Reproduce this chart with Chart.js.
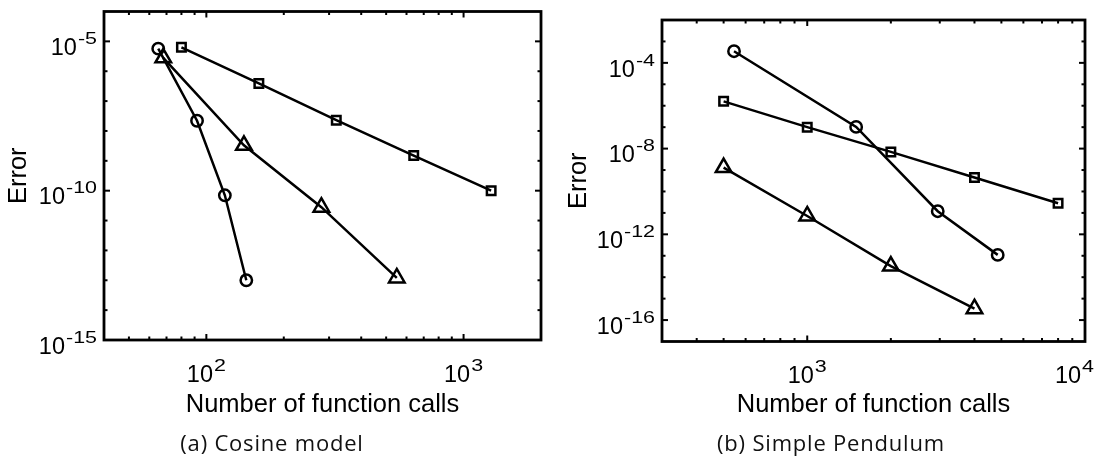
<!DOCTYPE html>
<html><head><meta charset="utf-8">
<script src="https://cdn.jsdelivr.net/npm/chart.js@4.4.1/dist/chart.umd.min.js"></script>
<style>
html,body{margin:0;padding:0;background:#fff;}
body{width:1107px;height:461px;position:relative;overflow:hidden;}
#wa{position:absolute;left:0;top:0;width:553px;height:461px;}
#wb{position:absolute;left:553px;top:0;width:554px;height:461px;}
.cap{position:absolute;top:431px;font-family:"Open Sans",Lato,sans-serif;font-size:22px;line-height:22px;letter-spacing:0.8px;text-align:center;color:#111;white-space:nowrap;}
</style></head><body>
<div id="wa"><canvas id="ca" width="553" height="461"></canvas></div>
<div id="wb"><canvas id="cb" width="554" height="461"></canvas></div>
<div class="cap" style="left:0;width:544px">(a) Cosine model</div>
<div class="cap" style="left:555px;width:552px">(b) Simple Pendulum</div>
<script>
// ---- (a) Cosine model ----
const cosCircleX   = [65, 92, 118, 143];
const cosCircleY   = [5.7e-6, 2.2e-8, 7e-11, 1e-13];
const cosSquareX   = [80, 160, 320, 640, 1280];
const cosSquareY   = [6.3e-6, 3.9e-7, 2.3e-8, 1.5e-9, 1e-10];
const cosTriangleX = [68, 140, 280, 550];
const cosTriangleY = [2.8e-6, 3.3e-9, 2.8e-11, 1.2e-13];

const cosXTicks  = [50,60,70,80,90,100,200,300,400,500,600,700,800,900,1000,2000];
const cosXLabels = ['','','','','','10^2','','','','','','','','','10^3',''];
const cosYTicks  = [1e-15,1e-14,1e-13,1e-12,1e-11,1e-10,1e-9,1e-8,1e-7,1e-6,1e-5,1e-4];
const cosYLabels = ['10^-15','','','','','10^-10','','','','','10^-5',''];

// ---- (b) Simple Pendulum ----
const penCircleX   = [545, 1500, 2950, 4850];
const penCircleY   = [3.5e-4, 1.03e-7, 1.2e-11, 1.1e-13];
const penSquareX   = [500, 1000, 2000, 4000, 8000];
const penSquareY   = [1.6e-6, 1.0e-7, 7e-9, 4.5e-10, 2.8e-11];
const penTriangleX = [500, 1000, 2000, 4000];
const penTriangleY = [1.3e-9, 7.2e-12, 3.3e-14, 3.4e-16];

const penXTicks  = [400,500,600,700,800,900,1000,2000,3000,4000,5000,6000,7000,8000,9000,10000];
const penXLabels = ['','','','','','','10^3','','','','','','','','','10^4'];
const penYTicks  = [1e-17,1e-16,1e-15,1e-14,1e-13,1e-12,1e-11,1e-10,1e-9,1e-8,1e-7,1e-6,1e-5,1e-4,1e-3,1e-2];
const penYLabels = ['','10^-16','','','','10^-12','','','','10^-8','','','','10^-4','',''];

const FONT = '"Liberation Sans", Arial, Helvetica, sans-serif';
const BASE_PX = 23.5, SUP_PX = 16.5, SUP_SX = 1.3, SUP_RAISE = 11, SUP_GAP = 1;

function drawPow(ctx, label, x, y, align, maxRight) {
  const parts = label.split('^');
  const b = parts[0], e = parts[1] || '';
  ctx.font = BASE_PX + 'px ' + FONT;
  const wb = ctx.measureText(b).width;
  ctx.font = SUP_PX + 'px ' + FONT;
  const we = ctx.measureText(e).width * SUP_SX;
  const total = wb + SUP_GAP + we;
  let x0 = align === 'right' ? x - total : x - total / 2;
  if (maxRight !== undefined && x0 + total > maxRight) x0 = maxRight - total;
  ctx.textAlign = 'left';
  ctx.textBaseline = 'alphabetic';
  ctx.fillStyle = '#000';
  ctx.font = BASE_PX + 'px ' + FONT;
  ctx.fillText(b, x0, y);
  ctx.save();
  ctx.translate(x0 + wb + SUP_GAP, y - SUP_RAISE);
  ctx.scale(SUP_SX, 1);
  ctx.font = SUP_PX + 'px ' + FONT;
  ctx.fillText(e, 0, 0);
  ctx.restore();
}

const boxPlugin = {
  id: 'box',
  afterDraw(chart, args, o) {
    const {ctx, chartArea: a, scales} = chart;
    ctx.save();
    ctx.strokeStyle = '#000';
    ctx.lineWidth = 2;
    const seg = (x1,y1,x2,y2)=>{ctx.beginPath();ctx.moveTo(x1,y1);ctx.lineTo(x2,y2);ctx.stroke();};
    o.xTicks.forEach((v, i) => {
      const p = scales.x.getPixelForValue(v);
      const lab = o.xLabels[i];
      if (lab) drawPow(ctx, lab, p, a.bottom + 41.5, 'center', chart.width - 13);
      if (p <= a.left + 1 || p >= a.right - 1) return;
      const L = lab ? 6 : 3.5;
      seg(p, a.bottom, p, a.bottom - L);
      seg(p, a.top, p, a.top + L);
    });
    o.yTicks.forEach((v, i) => {
      const p = scales.y.getPixelForValue(v);
      const lab = o.yLabels[i];
      if (lab) drawPow(ctx, lab, a.left - 7, p + 13.8, 'right');
      if (p <= a.top + 1 || p >= a.bottom - 1) return;
      const L = lab ? 6 : 3.5;
      seg(a.left, p, a.left + L, p);
      seg(a.right, p, a.right - L, p);
    });
    ctx.lineWidth = 2.8;
    ctx.strokeRect(a.left, a.top, a.right - a.left, a.bottom - a.top);
    ctx.restore();
  }
};

function series(xs, ys, style, r) {
  return {
    data: xs.map((x, i) => ({x: x, y: ys[i]})),
    showLine: true, borderColor: '#000', borderWidth: 2.5, tension: 0, fill: false,
    pointStyle: style, pointRadius: r, pointHoverRadius: r, pointBorderWidth: 2.5,
    pointBorderColor: '#000', pointBackgroundColor: 'rgba(0,0,0,0)'
  };
}

function makeChart(id, p) {
  return new Chart(document.getElementById(id), {
    type: 'scatter',
    data: { datasets: [
      series(p.sqX, p.sqY, 'rect', 6),
      series(p.trX, p.trY, 'triangle', 9),
      series(p.ciX, p.ciY, 'circle', 5.7)
    ]},
    options: {
      responsive: false, animation: false,
      layout: { padding: p.pad },
      plugins: {
        legend: {display: false}, tooltip: {enabled: false},
        box: { xTicks: p.xTicks, xLabels: p.xLabels, yTicks: p.yTicks, yLabels: p.yLabels }
      },
      scales: {
        x: {
          type: 'logarithmic', position: 'bottom', min: p.xMin, max: p.xMax,
          grid: {display: false, drawTicks: false}, border: {display: false},
          ticks: { display: false, autoSkip: false, maxRotation: 0, minRotation: 0 },
          title: { display: true, text: 'Number of function calls', color: '#000',
                   font: {family: FONT, size: 25.5}, padding: {top: 0, bottom: 41} },
          afterBuildTicks: s => { s.ticks = p.xTicks.map(v => ({value: v})); },
          afterFit: s => { s.height = p.xH; }
        },
        y: {
          type: 'logarithmic', position: 'left', min: p.yMin, max: p.yMax,
          grid: {display: false, drawTicks: false}, border: {display: false},
          ticks: { display: false, autoSkip: false },
          title: { display: true, text: 'Error', color: '#000',
                   font: {family: FONT, size: 25.5}, padding: {top: p.yTitlePad, bottom: 0} },
          afterBuildTicks: s => { s.ticks = p.yTicks.map(v => ({value: v})); },
          afterFit: s => { s.width = p.yW; }
        }
      }
    },
    plugins: [boxPlugin]
  });
}

makeChart('ca', {
  ciX: cosCircleX, ciY: cosCircleY, sqX: cosSquareX, sqY: cosSquareY, trX: cosTriangleX, trY: cosTriangleY,
  xTicks: cosXTicks, xLabels: cosXLabels, yTicks: cosYTicks, yLabels: cosYLabels,
  xMin: 40, xMax: 2000, yMin: 1e-15, yMax: 1e-4,
  pad: {left: 0, top: 8, right: 12, bottom: 0}, xH: 121, yW: 104, yTitlePad: 4
});
makeChart('cb', {
  ciX: penCircleX, ciY: penCircleY, sqX: penSquareX, sqY: penSquareY, trX: penTriangleX, trY: penTriangleY,
  xTicks: penXTicks, xLabels: penXLabels, yTicks: penYTicks, yLabels: penYLabels,
  xMin: 300, xMax: 10000, yMin: 1e-17, yMax: 1e-2,
  pad: {left: 0, top: 20, right: 22, bottom: 0}, xH: 119.5, yW: 109, yTitlePad: 11
});
</script>
</body></html>
